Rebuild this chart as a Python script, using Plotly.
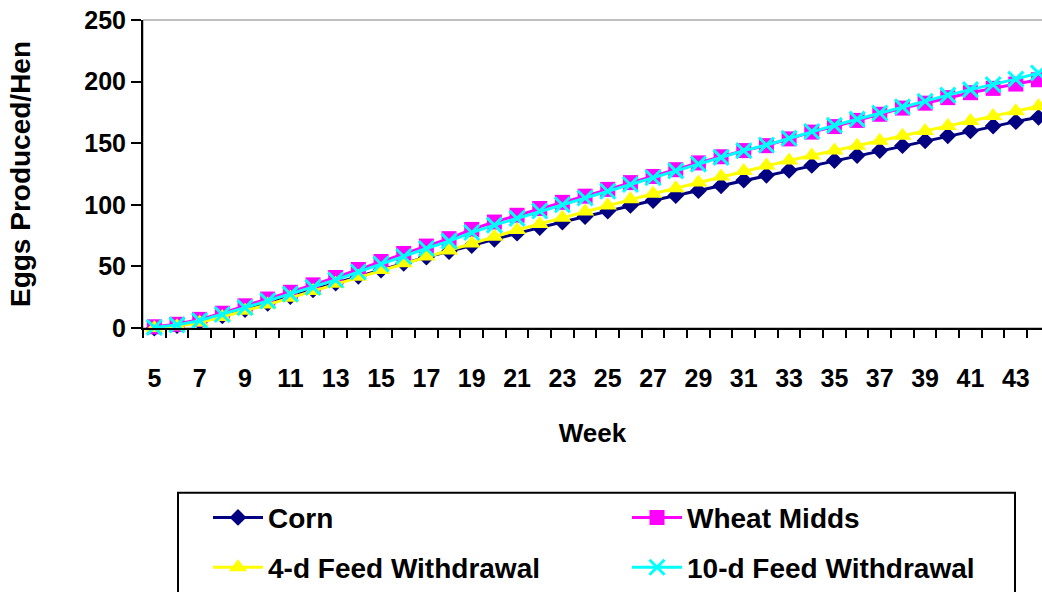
import plotly.graph_objects as go

weeks = list(range(5, 45))

corn = [0, 2, 5, 10, 15, 20, 25.5, 31, 36.5, 42, 47, 52.5, 57.5, 62, 67, 72, 77, 81.5, 86, 90.5,
        95, 99.5, 103.5, 107.5, 111.5, 115.5, 120, 124, 128, 132, 136, 140, 144, 148, 152, 156,
        160, 164, 167.5, 171]
wheat_midds = [1, 3, 7, 12, 18, 23.5, 29, 35, 41, 47.5, 54, 60.5, 66.5, 72.5, 80, 86, 91.5, 97,
               102, 107, 112.5, 118, 123, 128.5, 134, 139, 144, 148, 153.5, 159, 163.5, 168.5,
               173.5, 178.5, 182.5, 187, 191, 194.5, 198, 201.5]
fw4 = [0, 1.5, 4.5, 9, 14, 19, 24.5, 30, 36, 41.5, 47, 52.5, 58, 63, 68.5, 74, 79.5, 84.5, 89.5,
       94.5, 99.5, 104.5, 109, 113.5, 118, 123, 127.5, 132, 136, 140, 144, 148, 152, 156, 160,
       164, 168, 172, 176, 180]
fw10 = [0.5, 2.5, 6, 11, 16.5, 22, 27.5, 33, 39, 45.5, 52, 58, 64.5, 70.5, 77.5, 83.5, 89, 95,
        100, 105.5, 111, 116.5, 122, 127.5, 133, 138.5, 144, 148.5, 154, 159.5, 164.5, 169.5,
        174.5, 179.5, 184, 189, 193.5, 197.5, 202, 207]

tick_weeks = list(range(5, 45, 2))
boundary_ticks = [w - 0.5 for w in range(5, 46)]
y_ticks = [0, 50, 100, 150, 200, 250]

FONT = "Liberation Sans, Arial, sans-serif"

L, T, B = 143, 19.5, 264
W, H = 1042, 592
pw = W - L
ph = H - T - B
x_range = [4.5, 4.5 + pw / 22.67]
TICK_LEN = 8


def px_x(p):
    return (p - L) / pw


def px_y(p):
    return (H - B - p) / ph


series = [
    ("Corn", corn, "#000080", dict(symbol="diamond", size=13), "legend", 208, 518),
    ("Wheat Midds", wheat_midds, "#FF00FF", dict(symbol="square", size=15), "legend2", 627, 518),
    ("4-d Feed Withdrawal", fw4, "#FFFF00", dict(symbol="triangle-up", size=16), "legend3", 208, 568),
    ("10-d Feed Withdrawal", fw10, "#00FFFF", dict(symbol="x-thin", size=15), "legend4", 627, 568),
]

fig = go.Figure()

# category-boundary tick marks below the x axis (drawn on a hidden overlay y axis)
fig.add_trace(go.Scatter(
    x=boundary_ticks, y=[-(TICK_LEN / 2 + 1) / ph] * len(boundary_ticks),
    xaxis="x", yaxis="y2", mode="markers",
    marker=dict(symbol="line-ns", size=TICK_LEN, color="black",
                line=dict(color="black", width=2)),
    cliponaxis=False, showlegend=False, hoverinfo="skip"))

legends = {}
for name, vals, color, mk, lg, lx, ly in series:
    fig.add_trace(go.Scatter(
        x=weeks, y=vals, name=name, mode="lines+markers",
        line=dict(color=color, width=3),
        marker=dict(color=color, line=dict(color=color, width=3 if mk["symbol"] == "x-thin" else 0), **mk),
        cliponaxis=False, legend=lg))
    legends[lg] = dict(x=px_x(lx), y=px_y(ly), xanchor="left", yanchor="middle",
                       orientation="h", itemwidth=50,
                       font=dict(family=FONT, size=28, color="black", weight="bold"),
                       bgcolor="rgba(0,0,0,0)", borderwidth=0)

fig.update_layout(
    width=W, height=H,
    margin=dict(l=L, r=0, t=T, b=B, pad=0, autoexpand=False),
    paper_bgcolor="white", plot_bgcolor="white",
    font=dict(family=FONT, color="black"),
    showlegend=True,
    xaxis=dict(
        range=x_range,
        tickmode="array", tickvals=tick_weeks, tickangle=0,
        ticks="outside", ticklen=TICK_LEN, tickwidth=2, tickcolor="rgba(0,0,0,0)",
        ticklabelstandoff=19, automargin=False,
        tickfont=dict(family=FONT, size=25, color="black", weight="bold"),
        showline=True, linecolor="black", linewidth=2,
        showgrid=False, zeroline=False,
        minor=dict(tickmode="array", tickvals=boundary_ticks, ticks="outside",
                   ticklen=TICK_LEN, tickwidth=2, tickcolor="black", showgrid=False),
        title=dict(text="Week", standoff=33,
                   font=dict(family=FONT, size=26, color="black", weight="bold")),
    ),
    yaxis=dict(
        range=[0, 250], tickmode="array", tickvals=y_ticks, automargin=False,
        ticks="outside", ticklen=10, tickwidth=2, tickcolor="black",
        tickfont=dict(family=FONT, size=25, color="black", weight="bold"),
        showline=True, linecolor="black", linewidth=2,
        showgrid=False, zeroline=False,
        title=dict(text="Eggs Produced/Hen", standoff=45,
                   font=dict(family=FONT, size=28, color="black", weight="bold")),
    ),
    yaxis2=dict(range=[0, 1], overlaying="y", visible=False, automargin=False,
                fixedrange=True),
    shapes=[
        dict(type="rect", xref="x domain", yref="y domain", x0=0, x1=1.02, y0=0, y1=1,
             line=dict(color="#808080", width=1), layer="below"),
        dict(type="rect", xref="paper", yref="paper",
             x0=px_x(178), x1=px_x(1015), y0=px_y(493), y1=px_y(620),
             line=dict(color="black", width=2), fillcolor="rgba(0,0,0,0)", layer="above"),
    ],
    **legends,
)

fig.write_html("out.html")
